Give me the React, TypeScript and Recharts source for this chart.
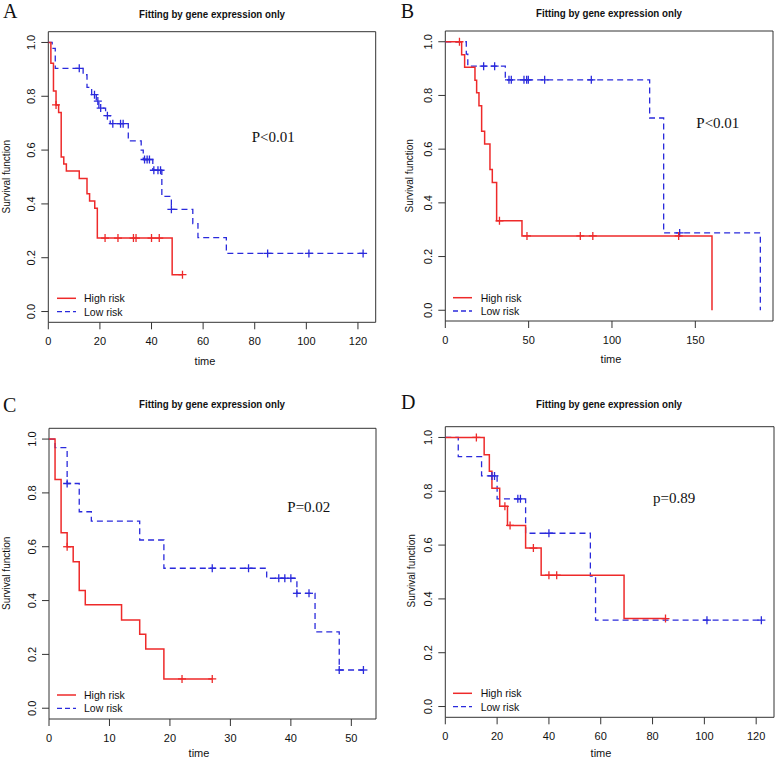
import React from 'react';
import { ComposedChart, Line, Scatter, XAxis, YAxis, ReferenceArea } from 'recharts';

// ---------------- DATA ----------------
const panelLetters = ['A', 'B', 'C', 'D'];
const titleText = 'Fitting by gene expression only';
const pValueTexts = ['P<0.01', 'P<0.01', 'P=0.02', 'p=0.89'];
const seriesNames = ['High risk', 'Low risk'];
const xAxisTitle = 'time';
const yAxisTitle = 'Survival function';
const yTicks = [0, 0.2, 0.4, 0.6, 0.8, 1.0];

// Panel A
const aXTicks = [0, 20, 40, 60, 80, 100, 120];
const aHighTime = [0, 1, 2, 3, 4, 5, 6, 7, 12, 15, 16, 18, 19, 48, 52];
const aHighSurv = [1, 0.923, 0.82, 0.768, 0.74, 0.574, 0.548, 0.522, 0.494, 0.438, 0.411, 0.384, 0.273, 0.137, 0.137];
const aHighCensor = [3, 22, 27, 33, 34, 40, 43, 52];
const aLowTime = [0, 1.5, 2.7, 13.5, 15, 16.8, 18.6, 19.6, 22.2, 24, 31, 36, 36.8, 40.5, 44, 47.7, 56, 58, 69, 122];
const aLowSurv = [1, 0.978, 0.904, 0.88, 0.833, 0.806, 0.782, 0.756, 0.728, 0.698, 0.634, 0.6, 0.565, 0.525, 0.428, 0.38, 0.327, 0.275, 0.216, 0.216];
const aLowCensor = [12, 17.9, 19.2, 20.3, 22.9, 25, 28, 29, 37.3, 38.3, 39.2, 40.9, 42.5, 43.5, 47.7, 85, 101, 122];

// Panel B
const bXTicks = [0, 50, 100, 150];
const bHighTime = [0, 9.8, 11.6, 17.8, 18.8, 20.2, 21.8, 23.6, 26.8, 28.2, 30.8, 46, 160];
const bHighSurv = [1, 0.952, 0.905, 0.857, 0.81, 0.762, 0.667, 0.619, 0.524, 0.476, 0.333, 0.277, 0];
const bHighCensor = [8.5, 32.5, 49, 81, 88.5, 140];
const bLowTime = [0, 12.6, 13.5, 36, 122.6, 131, 189];
const bLowSurv = [1, 0.954, 0.909, 0.858, 0.716, 0.288, 0];
const bLowCensor = [23, 29.6, 38.2, 39.6, 47.2, 48.8, 49.8, 59.6, 87.6, 140.6];

// Panel C
const cXTicks = [0, 10, 20, 30, 40, 50];
const cHighTime = [0, 1, 2, 3, 4, 5, 6, 12, 15, 16, 19, 27];
const cHighSurv = [1, 0.85, 0.652, 0.6, 0.544, 0.437, 0.384, 0.328, 0.275, 0.22, 0.109, 0.109];
const cHighCensor = [3, 22, 27];
const cLowTime = [0, 1, 3, 5, 7, 15, 19, 36, 41, 44, 48, 52];
const cLowSurv = [1, 0.968, 0.835, 0.73, 0.695, 0.625, 0.52, 0.483, 0.427, 0.284, 0.142, 0.142];
const cLowCensor = [3, 27, 33, 38, 39, 40, 41, 43, 48, 52];

// Panel D
const dXTicks = [0, 20, 40, 60, 80, 100, 120];
const dHighTime = [0, 15, 17, 18, 21, 24, 31, 37, 69, 85];
const dHighSurv = [1, 0.936, 0.874, 0.811, 0.744, 0.673, 0.589, 0.488, 0.327, 0.327];
const dHighCensor = [12, 23, 25, 34, 40, 43, 85];
const dLowTime = [0, 5, 14, 20, 31, 56, 58, 122];
const dLowSurv = [1, 0.929, 0.857, 0.772, 0.644, 0.485, 0.321, 0.321];
const dLowCensor = [18, 19, 28, 29, 40, 101, 122];

// ---------------- STYLE / LAYOUT ----------------
const RED = '#EE2A2A';
const BLUE = '#2A2ADC';
const INK = '#111';
const FRAME = '#333';
const SANS = '"Liberation Sans", Arial, sans-serif';
const SERIF = '"Liberation Serif", "Times New Roman", serif';

const LAYOUT = [
  { px: 0, py: 0, box: { l: 48.3, t: 31.7, r: 375.7, b: 322.3 }, xMax: 126.88,
    letter: [3, 18.3], title: [212, 18], p: [251.7, 141.7], ylab: [10, 176.7], time: [205, 365],
    leg: { x: 57, yRed: 298.3, yBlue: 311.7, tx: 84 } },
  { px: 388, py: 0, box: { l: 445.3, t: 31, r: 773, b: 321 }, xMax: 196.6,
    letter: [400.7, 18.3], title: [609, 16.7], p: [696.3, 128.3], ylab: [413, 175.8], time: [611, 363.3],
    leg: { x: 453, yRed: 297.7, yBlue: 311, tx: 480.7 } },
  { px: 0, py: 380, box: { l: 49, t: 428.3, r: 376, b: 719 }, xMax: 54.08,
    letter: [3, 411.7], title: [212, 407.7], p: [287.3, 511.7], ylab: [10, 573.3], time: [199, 756.7],
    leg: { x: 57, yRed: 695, yBlue: 708.3, tx: 84 } },
  { px: 388, py: 380, box: { l: 445.3, t: 426.7, r: 774, b: 717.3 }, xMax: 126.88,
    letter: [401, 409.3], title: [609, 408.3], p: [653, 502.7], ylab: [415, 570.8], time: [601, 756.7],
    leg: { x: 453, yRed: 693.3, yBlue: 706.7, tx: 480.7 } },
];

// ---------------- HELPERS ----------------
const toCurve = (ts: number[], ss: number[]) => ts.map((t, i) => ({ t, s: ss[i] }));
const survAt = (curve: { t: number; s: number }[], t: number) => {
  let s = curve[0].s;
  for (const p of curve) if (p.t <= t) s = p.s;
  return s;
};
const toCensor = (curve: { t: number; s: number }[], cs: number[]) => cs.map((t) => ({ t, s: survAt(curve, t) }));

const PANELS = [
  { xTicks: aXTicks, high: toCurve(aHighTime, aHighSurv), low: toCurve(aLowTime, aLowSurv), hc: aHighCensor, lc: aLowCensor },
  { xTicks: bXTicks, high: toCurve(bHighTime, bHighSurv), low: toCurve(bLowTime, bLowSurv), hc: bHighCensor, lc: bLowCensor },
  { xTicks: cXTicks, high: toCurve(cHighTime, cHighSurv), low: toCurve(cLowTime, cLowSurv), hc: cHighCensor, lc: cLowCensor },
  { xTicks: dXTicks, high: toCurve(dHighTime, dHighSurv), low: toCurve(dLowTime, dLowSurv), hc: dHighCensor, lc: dLowCensor },
];

const plusShape = (color: string) => (props: any) => {
  const { cx, cy } = props;
  if (cx == null || cy == null) return <g />;
  return (
    <g>
      <line x1={cx - 4} x2={cx + 4} y1={cy} y2={cy} stroke={color} strokeWidth={1.3} />
      <line x1={cx} x2={cx} y1={cy - 4} y2={cy + 4} stroke={color} strokeWidth={1.3} />
    </g>
  );
};

const XTick = (props: any) => {
  const { x, y, payload } = props;
  return (
    <text x={x} y={y} dy="0.71em" textAnchor="middle" fontFamily={SANS} fontSize={11} fill={INK}>
      {payload.value}
    </text>
  );
};

const YTick = (props: any) => {
  const { x, y, payload } = props;
  return (
    <text x={x} y={y} transform={`rotate(-90 ${x} ${y})`} textAnchor="middle" fontFamily={SANS} fontSize={11} fill={INK}>
      {Number(payload.value).toFixed(1)}
    </text>
  );
};

const W = 389;
const H = 379;
const YW = 40;
const XH = 30;

function KMPanel({ idx }: { idx: number }) {
  const L = LAYOUT[idx];
  const D = PANELS[idx];
  const margin = {
    top: L.box.t - L.py,
    right: L.px + W - L.box.r,
    left: L.box.l - L.px - YW,
    bottom: L.py + H - L.box.b - XH,
  };
  return (
    <div style={{ position: 'absolute', left: L.px, top: L.py, width: W, height: H }}>
      <ComposedChart width={W} height={H} margin={margin}>
        <XAxis
          type="number"
          dataKey="t"
          domain={[0, L.xMax]}
          ticks={D.xTicks}
          interval={0}
          allowDataOverflow
          axisLine={false}
          tickLine={{ stroke: FRAME }}
          tickSize={7}
          tickMargin={8}
          tick={XTick}
          height={XH}
        />
        <YAxis
          type="number"
          dataKey="s"
          domain={[-0.04, 1.04]}
          ticks={yTicks}
          interval={0}
          allowDataOverflow
          axisLine={false}
          tickLine={{ stroke: FRAME }}
          tickSize={7}
          tickMargin={6}
          tick={YTick}
          width={YW}
        />
        <ReferenceArea x1={0} x2={L.xMax} y1={-0.04} y2={1.04} fill="none" fillOpacity={0} stroke={FRAME} strokeWidth={1} ifOverflow="visible" />
        <Line data={D.low} dataKey="s" type="stepAfter" stroke={BLUE} strokeWidth={1.3} strokeDasharray="6 4" dot={false} activeDot={false} isAnimationActive={false} />
        <Line data={D.high} dataKey="s" type="stepAfter" stroke={RED} strokeWidth={1.5} dot={false} activeDot={false} isAnimationActive={false} />
        <Scatter data={toCensor(D.low, D.lc)} dataKey="s" shape={plusShape(BLUE)} isAnimationActive={false} />
        <Scatter data={toCensor(D.high, D.hc)} dataKey="s" shape={plusShape(RED)} isAnimationActive={false} />
      </ComposedChart>
    </div>
  );
}

function Overlay() {
  return (
    <svg width={778} height={759} style={{ position: 'absolute', left: 0, top: 0, pointerEvents: 'none' }}>
      {LAYOUT.map((L, i) => (
        <g key={i}>
          <text x={L.letter[0]} y={L.letter[1]} fontFamily={SERIF} fontSize={20} fill={INK}>{panelLetters[i]}</text>
          <text x={L.title[0]} y={L.title[1]} textAnchor="middle" fontFamily={SANS} fontWeight="bold" fontSize={11}
            textLength={146} lengthAdjust="spacingAndGlyphs" fill={INK}>{titleText}</text>
          <text x={L.p[0]} y={L.p[1]} fontFamily={SERIF} fontSize={15} fill={INK}>{pValueTexts[i]}</text>
          <text x={L.ylab[0]} y={L.ylab[1]} transform={`rotate(-90 ${L.ylab[0]} ${L.ylab[1]})`} textAnchor="middle"
            fontFamily={SANS} fontSize={10} fill={INK}>{yAxisTitle}</text>
          <text x={L.time[0]} y={L.time[1]} textAnchor="middle" fontFamily={SANS} fontSize={11} fill={INK}>{xAxisTitle}</text>
          <line x1={L.leg.x} x2={L.leg.x + 19} y1={L.leg.yRed} y2={L.leg.yRed} stroke={RED} strokeWidth={1.5} />
          <line x1={L.leg.x} x2={L.leg.x + 19} y1={L.leg.yBlue} y2={L.leg.yBlue} stroke={BLUE} strokeWidth={1.3} strokeDasharray="5 3" />
          <text x={L.leg.tx} y={L.leg.yRed + 4} fontFamily={SANS} fontSize={10.5} fill={INK}>{seriesNames[0]}</text>
          <text x={L.leg.tx} y={L.leg.yBlue + 4} fontFamily={SANS} fontSize={10.5} fill={INK}>{seriesNames[1]}</text>
        </g>
      ))}
    </svg>
  );
}

export default function App() {
  return (
    <div style={{ position: 'absolute', left: 0, top: 0, width: 778, height: 759, background: '#fff', overflow: 'hidden' }}>
      {LAYOUT.map((_, i) => <KMPanel key={i} idx={i} />)}
      <Overlay />
    </div>
  );
}
